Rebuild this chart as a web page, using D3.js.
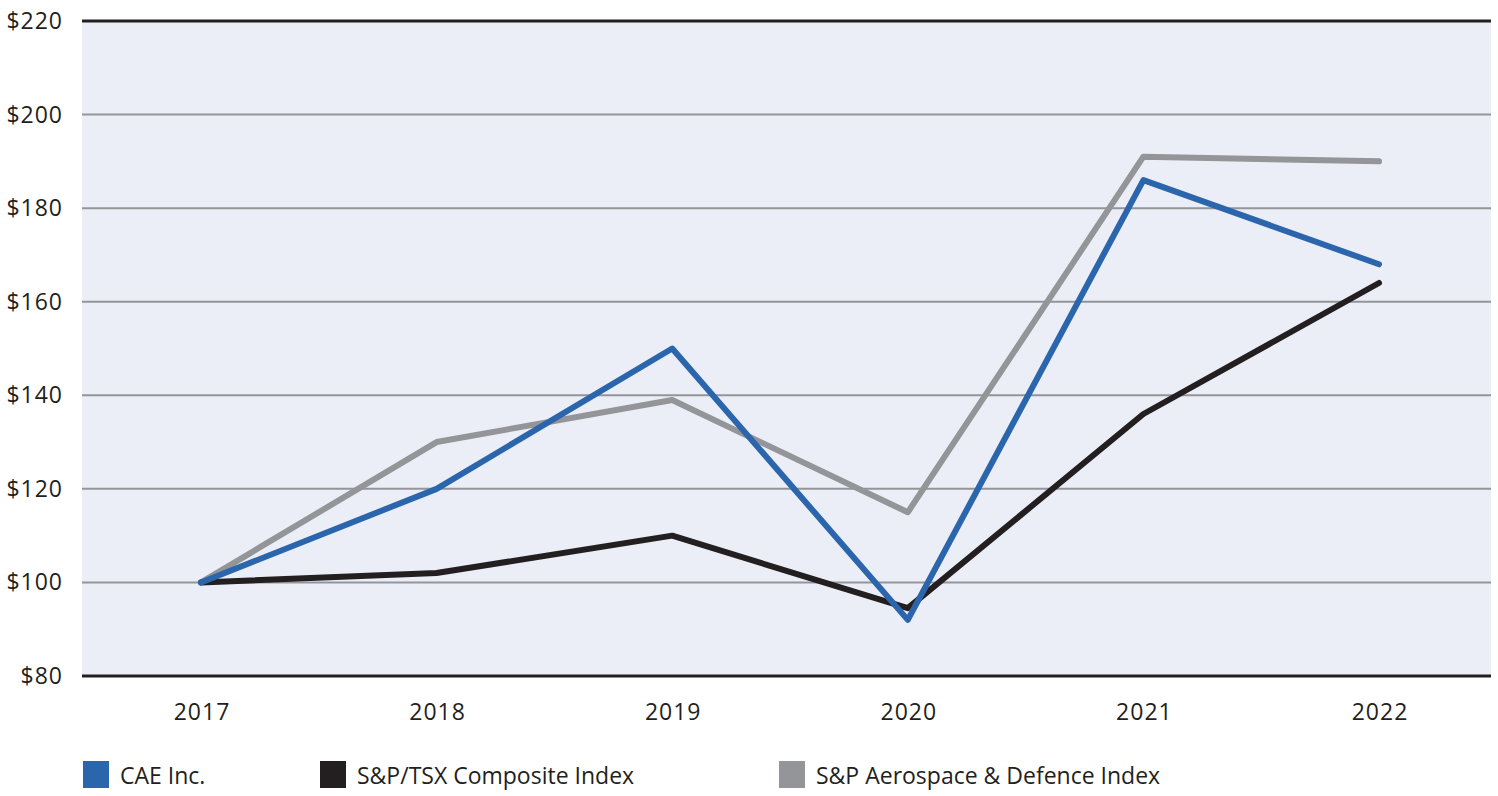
<!DOCTYPE html>
<html><head><meta charset="utf-8">
<script src="https://cdn.jsdelivr.net/npm/d3@7"></script>
<style>body{margin:0;background:#fff;} svg{display:block;font-family:"Open Sans",Lato,sans-serif;}</style>
</head><body><svg id="c" width="1498" height="796"></svg>
<script>
const years = ["2017","2018","2019","2020","2021","2022"];
const cae = [100,120,150,92,186,168];
const tsx = [100,102,110,94.5,136,164];
const aero = [100,130,139,115,191,190];
const yTicks = [80,100,120,140,160,180,200,220];
const seriesNames = ["CAE Inc.","S&P/TSX Composite Index","S&P Aerospace & Defence Index"];
const colors = ["#2b66ad","#231f20","#939598"];

const svg = d3.select("#c");
const L=82, R=1491, T=21, B=676;
const x = d3.scalePoint().domain(years).range([201,1379]);
const y = d3.scaleLinear().domain([80,220]).range([B,T]);

svg.append("rect").attr("x",L).attr("y",T).attr("width",R-L).attr("height",B-T).attr("fill","#ebeef6");

// grid
svg.append("g").selectAll("line").data(yTicks.filter(v=>v!==80&&v!==220)).join("line")
  .attr("x1",L).attr("x2",R).attr("y1",d=>y(d)).attr("y2",d=>y(d))
  .attr("stroke","#939598").attr("stroke-width",2);
svg.append("g").selectAll("line").data([80,220]).join("line")
  .attr("x1",L).attr("x2",R).attr("y1",d=>y(d)).attr("y2",d=>y(d))
  .attr("stroke","#231f20").attr("stroke-width",3);

// y labels
svg.append("g").selectAll("text").data(yTicks).join("text")
  .attr("x",63).attr("y",d=>y(d)+8).attr("text-anchor","end")
  .attr("font-size",23).attr("letter-spacing",1).attr("fill","#231f20").text(d=>"$"+d);

// x labels
svg.append("g").selectAll("text").data(years).join("text")
  .attr("x",d=>x(d)+1).attr("y",720).attr("text-anchor","middle")
  .attr("font-size",23).attr("letter-spacing",1).attr("fill","#231f20").text(d=>d);

const line = d3.line().x((d,i)=>x(years[i])).y(d=>y(d));
const data = [cae,tsx,aero];
[2,1,0].forEach(i=>{
  svg.append("path").attr("d",line(data[i])).attr("fill","none")
    .attr("stroke",colors[i]).attr("stroke-width",6)
    .attr("stroke-linecap","round").attr("stroke-linejoin","round");
});

// legend
const lx=[83,320,779];
seriesNames.forEach((n,i)=>{
  svg.append("rect").attr("x",lx[i]).attr("y",761).attr("width",26).attr("height",27).attr("fill",colors[i]);
  svg.append("text").attr("x",lx[i]+37).attr("y",784).attr("font-size",23).attr("fill","#231f20").text(n);
});
</script></body></html>
